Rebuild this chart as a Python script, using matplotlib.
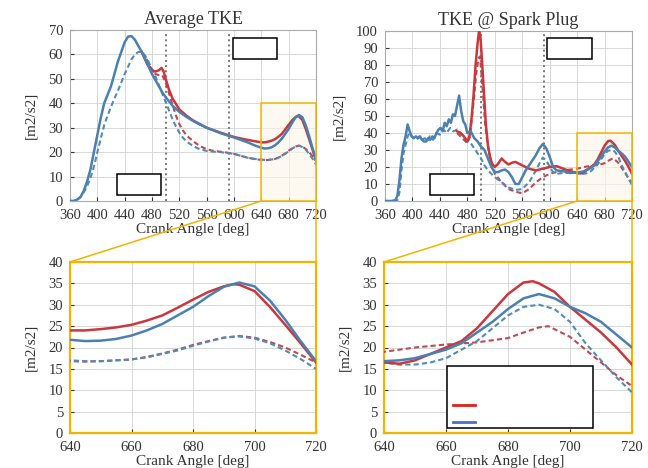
import matplotlib
matplotlib.use("Agg")
import matplotlib.pyplot as plt
from matplotlib.patches import Rectangle, ConnectionPatch
from matplotlib.lines import Line2D

plt.rcParams['font.family'] = ['Liberation Serif', 'DejaVu Serif']

# ---------------- Average TKE ----------------
avg_blue_solid_x = [360,365,370,375,380,385,390,395,400,405,410,415,420,425,430,435,440,445,450,455,460,465,470,475,480,485,490,495,500,510,520,530,540,550,560,570,580,590,600,610,620,630,640,645,650,655,660,665,670,675,680,685,690,695,700,705,710,715,720]
avg_blue_solid_y = [0,0,0.5,1.5,4,8,13,20,27,34,40,43.5,47,52,57,61,65,67.3,67.5,66,63.5,61,58,55,52,49.5,47,44.5,42.5,39,36.5,34.5,32.8,31.3,30,28.9,27.8,26.9,26,25,24,22.8,21.8,21.5,21.6,22,22.8,24,25.5,27.5,29.5,32,34.2,35.2,34.3,31,26.5,21.5,16.8]

avg_red_solid_x = [465,470,473,476,480,485,490,494,497,500,505,510,520,530,540,560,580,600,620,640,645,650,655,660,665,670,675,680,685,690,693,695,700,705,710,715,720]
avg_red_solid_y = [61,58,56,55,53.5,53,53.5,54.5,53,50,45.5,42,37.5,35,33,30,28,26.2,25,24,24,24.3,24.7,25.3,26.3,27.5,29.3,31.2,33,34.3,34.8,34.7,33.2,29.5,25.3,21,16.5]

avg_blue_dash_x = [360,365,370,375,380,385,390,395,400,405,410,415,420,425,430,435,440,445,450,455,460,465,470,475,480,485,490,495,500,505,510,515,520,525,530,540,550,560,570,580,590,600,610,620,630,640,645,650,655,660,665,670,675,680,685,690,695,700,705,710,715,720]
avg_blue_dash_y = [0,0,0.5,1.5,3.5,6,9.5,14,20,25.5,31,35,38.5,42,45,48.5,52,55,58,60,61,61,59.5,57,54,51,47.5,44,40.5,37,33.5,30.5,28,26,24.5,22.5,21.2,20.5,20.2,20,19.7,19.3,18.5,17.7,17.2,17,16.8,16.8,17,17.2,17.7,18.5,19.3,20.4,21.4,22.3,22.6,22.1,21,19.3,17.3,15]

avg_red_dash_x = [465,470,475,480,485,490,495,500,505,510,515,520,525,530,540,550,560,570,580,590,600,610,620,630,640,645,650,655,660,665,670,675,680,685,690,695,700,705,710,715,720]
avg_red_dash_y = [61,59,56.5,53.5,52,51.5,51.5,48.5,44,39.5,35,31.5,29,27,24.5,22.5,21.2,20.5,20.2,19.8,19.3,18.5,17.7,17.2,16.8,16.7,16.8,17,17.2,17.8,18.6,19.5,20.6,21.5,22.3,22.7,22.3,21.3,20,18.3,16.5]

# ---------------- TKE @ Spark Plug ----------------
sp_blue_solid_x = [360,370,375,378,381,384,387,390,393,396,399,402,405,408,411,414,417,420,423,426,429,432,435,438,441,444,447,450,453,456,459,462,465,468,471,474,477,480,485,490,495,500,505,510,515,520,525,530,535,540,545,550,555,560,565,570,575,580,585,590,595,600,605,610,620,630,640,645,650,655,660,665,670,675,680,685,690,695,700,705,710,715,720]
sp_blue_solid_y = [0,0,0.5,3,12,25,33,38,45,41,38,37,38,37,38,36,35,35,37,36,38,37,40,42,43,41,46,44,48,46,51,50,56,62,53,47,45,40,41,37,35,32,30,25,20,17,17,18,18.5,17,14,10,10,14,18,21,24,27,31,33.5,31,26,20,18,17.5,16.5,16.8,17,17.5,18.5,19.5,21,23.5,26,29,31.5,32.5,31.5,29.5,28,26,23,20]

sp_blue_dash_x = [360,370,375,378,381,384,387,390,393,396,399,402,406,410,414,418,422,425,430,435,440,445,450,455,460,465,470,475,480,485,490,495,500,505,510,520,530,540,550,560,570,580,585,590,595,600,605,610,620,630,640,645,650,655,660,665,670,675,680,685,690,695,700,705,710,715,720]
sp_blue_dash_y = [0,0,0,0.5,5,18,28,33,38,40,38,37,36,38,36,37,35,38,36,40,39,42,40,43,41,42,40,38,35,34,31,28,25,21,18,14,11,8,6.5,7,11,18,22,25.5,24,20,17,16,16.5,16.5,16.5,16,16,16.5,17.5,19.5,21.5,24.5,27.5,29.5,30,29,26,21,17,13,9.5]

sp_red_solid_x = [465,470,475,480,483,486,489,492,495,497,499,501,504,507,510,513,516,520,525,530,535,540,545,550,555,560,565,570,580,590,600,610,620,630,640,645,650,655,660,665,670,675,680,685,688,690,695,700,705,710,715,720]
sp_red_solid_y = [41,40,38,35,38,48,62,80,93,100,97,85,65,45,33,26,22,20,22,25,23,21.5,22.5,23,22,21,20,19,18,19,20,20.5,19,17.5,16.5,16.2,17,18.5,20,21.5,24.5,28.5,32.5,35.2,35.5,35,33,29.5,26.5,23.5,20,16]

sp_red_dash_x = [465,470,475,480,484,487,490,493,496,498,500,503,506,510,515,520,530,540,550,560,570,580,590,600,610,620,630,640,650,660,670,680,685,690,693,700,705,710,715,720]
sp_red_dash_y = [40,38,36,34,38,50,62,75,83,85,78,62,45,32,22,16,11,7,5.5,4.5,7,11,14,16,17,18,18.5,19,20,20.7,21.2,22.2,23.5,24.7,25,22.5,19.5,16.5,13.5,11]

RED = '#c8383c'
BLUE = '#4a80b2'
BLUE_D = '#4f8cb6'
RED_D = '#c04a52'
YEL = '#f2b400'
TXT = '#333333'

W, H = 648, 468
fig = plt.figure(figsize=(W/100, H/100), dpi=100)

def fr(l, t, r, b):
    return [l/W, 1-b/H, (r-l)/W, (b-t)/H]

ax_tl = fig.add_axes(fr(70, 30, 316, 201))
ax_tr = fig.add_axes(fr(385, 31, 632, 201))
ax_bl = fig.add_axes(fr(70, 262, 316, 433))
ax_br = fig.add_axes(fr(384, 262, 632, 433))

def style(ax, xlim, ylim, xt, yt, spine_col='#aaaaaa', spine_w=0.8):
    ax.set_xlim(*xlim); ax.set_ylim(*ylim)
    ax.set_xticks(xt); ax.set_yticks(yt)
    ax.grid(True, color='#d8d8d8', lw=0.7)
    ax.set_axisbelow(True)
    ax.tick_params(direction='in', length=3, labelsize=10.5, colors=TXT)
    ax.tick_params(axis='x', pad=5.5)
    ax.tick_params(axis='y', pad=5)
    for s in ax.spines.values():
        s.set_color(spine_col); s.set_linewidth(spine_w)
    ax.set_xlabel('Crank Angle [deg]', fontsize=11, color=TXT, labelpad=1)
    ax.set_ylabel('[m2/s2]', fontsize=11, color=TXT, labelpad=8)

def draw(ax, rs, rd, bs, bd):
    ax.plot(*rd, color=RED_D, lw=1.5, ls=(0, (2.5, 1.5)), zorder=3)
    ax.plot(*bd, color=BLUE_D, lw=1.5, ls=(0, (2.5, 1.5)), zorder=3)
    ax.plot(*rs, color=RED, lw=1.8, zorder=4)
    ax.plot(*bs, color=BLUE, lw=1.8, zorder=5)

avg = ((avg_red_solid_x, avg_red_solid_y), (avg_red_dash_x, avg_red_dash_y),
       (avg_blue_solid_x, avg_blue_solid_y), (avg_blue_dash_x, avg_blue_dash_y))
sp = ((sp_red_solid_x, sp_red_solid_y), (sp_red_dash_x, sp_red_dash_y),
      (sp_blue_solid_x, sp_blue_solid_y), (sp_blue_dash_x, sp_blue_dash_y))

style(ax_tl, (360, 720), (0, 70), range(360, 721, 40), range(0, 71, 10))
style(ax_tr, (360, 720), (0, 100), range(360, 721, 40), range(0, 101, 10))
style(ax_bl, (640, 720), (0, 40), range(640, 721, 20), range(0, 41, 5), YEL, 1.6)
style(ax_br, (640, 720), (0, 40), range(640, 721, 20), range(0, 41, 5), YEL, 1.6)

draw(ax_tl, *avg); draw(ax_bl, *avg)
draw(ax_tr, *sp); draw(ax_br, *sp)

ax_tl.set_title('Average TKE', fontsize=13, color=TXT, pad=4)
ax_tr.set_title('TKE @ Spark Plug', fontsize=13, color=TXT, pad=4)

for ax in (ax_tl, ax_tr):
    for xv in (500, 592):
        ax.axvline(xv, color='#777777', ls=':', lw=1.4, zorder=2)
    ax.add_patch(Rectangle((640, 0), 80, 40, facecolor='#fdf6e8', alpha=0.6,
                           edgecolor='none', zorder=1))
    ax.add_patch(Rectangle((640, 0), 80, 40, facecolor='none',
                           edgecolor=YEL, lw=1.1, zorder=6, clip_on=False))

for top, bot in ((ax_tl, ax_bl), (ax_tr, ax_br)):
    for xv in (640, 720):
        con = ConnectionPatch(xyA=(xv, 0), coordsA=top.transData,
                              xyB=(xv, 40), coordsB=bot.transData,
                              color=YEL, lw=1.1)
        fig.add_artist(con)

def box(l, t, r, b):
    fig.add_artist(Rectangle((l/W, 1-b/H), (r-l)/W, (b-t)/H,
                             transform=fig.transFigure, facecolor='white',
                             edgecolor='black', lw=1.1, zorder=10))

box(233, 38, 277, 59)
box(117, 174, 161, 195)
box(547, 38, 592, 59)
box(430, 174, 474, 195)
box(447, 366, 593, 428)
fig.add_artist(Line2D([453/W, 475/W], [1-405/H, 1-405/H], transform=fig.transFigure,
                      color='#e02020', lw=2, zorder=11))
fig.add_artist(Line2D([453/W, 475/W], [1-422/H, 1-422/H], transform=fig.transFigure,
                      color='#4472c4', lw=2, zorder=11))

fig.savefig('out.png', dpi=100)
